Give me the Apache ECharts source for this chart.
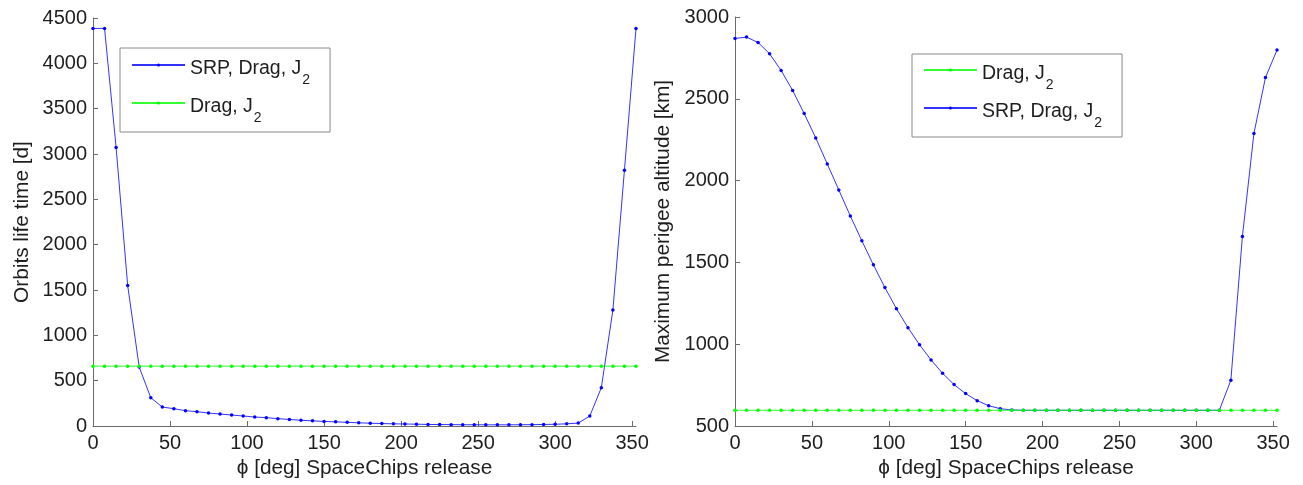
<!DOCTYPE html>
<html>
<head>
<meta charset="utf-8">
<script src="https://cdn.jsdelivr.net/npm/echarts@6.0.0/dist/echarts.min.js"></script>
<style>
  html, body { margin: 0; padding: 0; background: #ffffff; }
  #chart { width: 1303px; height: 485px; }
</style>
</head>
<body>
<div id="chart"></div>
<script>
// Release angle of the SpaceChips [deg]
const phi = [0, 7.5, 15, 22.5, 30, 37.5, 45, 52.5, 60, 67.5, 75, 82.5, 90, 97.5,
  105, 112.5, 120, 127.5, 135, 142.5, 150, 157.5, 165, 172.5, 180, 187.5, 195,
  202.5, 210, 217.5, 225, 232.5, 240, 247.5, 255, 262.5, 270, 277.5, 285, 292.5,
  300, 307.5, 315, 322.5, 330, 337.5, 345, 352.5];

// Orbit lifetime [d]
const lifeSrpDragJ2 = [4385, 4385, 3073, 1551, 650, 312, 209, 191, 169, 158, 143,
  132, 121, 110, 99, 92, 81, 72, 63, 57, 50, 46, 40, 35, 31, 27, 24, 22, 20, 17,
  16, 15, 14, 14, 13, 13, 13, 14, 15, 17, 19, 24, 32, 110, 423, 1279, 2822, 4385];
const lifeDragJ2 = [660, 660, 660, 660, 660, 660, 660, 660, 660, 660, 660, 660,
  660, 660, 660, 660, 660, 660, 660, 660, 660, 660, 660, 660, 660, 660, 660, 660,
  660, 660, 660, 660, 660, 660, 660, 660, 660, 660, 660, 660, 660, 660, 660, 660,
  660, 660, 660, 660];

// Maximum perigee altitude [km]
const perigeeSrpDragJ2 = [2869, 2877, 2844, 2775, 2673, 2551, 2410, 2261, 2102,
  1943, 1784, 1632, 1485, 1346, 1217, 1101, 997, 904, 822, 753, 698, 655, 624,
  606, 598, 596, 596, 596, 596, 596, 596, 596, 596, 596, 596, 596, 596, 596, 596,
  596, 596, 596, 596, 780, 1658, 2288, 2630, 2798];
const perigeeDragJ2 = [596, 596, 596, 596, 596, 596, 596, 596, 596, 596, 596, 596,
  596, 596, 596, 596, 596, 596, 596, 596, 596, 596, 596, 596, 596, 596, 596, 596,
  596, 596, 596, 596, 596, 596, 596, 596, 596, 596, 596, 596, 596, 596, 596, 596,
  596, 596, 596, 596];

// Tick labels
const xTicks = [0, 50, 100, 150, 200, 250, 300, 350];

const NAME_FULL = 'SRP, Drag, J2';
const NAME_DRAG = 'Drag, J2';
const X_TITLE = 'ϕ [deg] SpaceChips release';

const FONT = '"Liberation Sans", Arial, sans-serif';
const AXIS_COLOR = '#6b6b6b';
const TEXT_COLOR = '#1e1e1e';
const BLUE = '#0000ff';
const GREEN = '#00ff00';
const TICK_SIZE = 20;
const TITLE_SIZE = 20.8;

const pairs = (ys) => phi.map((x, i) => [x, ys[i]]);
const plain = (v) => String(v);

function xAxis(gridIndex) {
  return {
    type: 'value', gridIndex, min: 0, max: 352.5,
    name: X_TITLE, nameLocation: 'middle', nameGap: 29,
    nameTextStyle: { fontFamily: FONT, fontSize: TITLE_SIZE, color: TEXT_COLOR },
    axisLine: { lineStyle: { color: AXIS_COLOR, width: 1 } },
    axisTick: { inside: true, length: 5, customValues: xTicks, lineStyle: { color: AXIS_COLOR } },
    axisLabel: { customValues: xTicks, margin: 7, formatter: plain, fontFamily: FONT, fontSize: TICK_SIZE, color: TEXT_COLOR },
    splitLine: { show: false }
  };
}

function yAxis(gridIndex, min, max, name, gap) {
  return {
    type: 'value', gridIndex, min, max, interval: 500,
    name, nameLocation: 'middle', nameGap: gap,
    nameTextStyle: { fontFamily: FONT, fontSize: TITLE_SIZE, color: TEXT_COLOR },
    axisLine: { show: true, lineStyle: { color: AXIS_COLOR, width: 1 } },
    axisTick: { show: true, inside: true, length: 5, lineStyle: { color: AXIS_COLOR } },
    axisLabel: { margin: 6, formatter: plain, fontFamily: FONT, fontSize: TICK_SIZE, color: TEXT_COLOR },
    splitLine: { show: false }
  };
}

function lineSeries(name, axisIndex, ys, color, z) {
  return {
    type: 'line', name, xAxisIndex: axisIndex, yAxisIndex: axisIndex,
    data: pairs(ys), symbol: 'circle', symbolSize: 3.5, z,
    itemStyle: { color },
    lineStyle: { color, width: 1, opacity: 0.8 },
    emphasis: { disabled: true }
  };
}

// Legend label with a subscript "2" on J
const legendRich = {
  n: { fontFamily: FONT, fontSize: 19.5, color: TEXT_COLOR, lineHeight: 20, padding: [4, 0, 0, 0], verticalAlign: 'top' },
  s: { fontFamily: FONT, fontSize: 14, color: TEXT_COLOR, lineHeight: 14, padding: [18, 0, 0, 1], verticalAlign: 'top' }
};
const legendFormatter = (name) => '{n|' + name.slice(0, -1) + '}{s|' + name.slice(-1) + '}';

function legend(left, top, names, padding) {
  return {
    orient: 'vertical', left, top, data: names,
    itemWidth: 53, itemHeight: 4, itemGap: 6, padding,
    borderColor: '#8a8a8a', borderWidth: 1, backgroundColor: '#ffffff',
    selectedMode: false, formatter: legendFormatter,
    textStyle: { rich: legendRich }
  };
}

const chart = echarts.init(document.getElementById('chart'), null, { renderer: 'canvas' });
chart.setOption({
  animation: false,
  backgroundColor: '#ffffff',
  grid: [
    { left: 93, top: 18, width: 543, height: 408 },
    { left: 735, top: 17, width: 542, height: 409 }
  ],
  xAxis: [xAxis(0), xAxis(1)],
  yAxis: [
    yAxis(0, 0, 4500, 'Orbits life time [d]', 60),
    yAxis(1, 500, 3000, 'Maximum perigee altitude [km]', 61)
  ],
  legend: [
    legend(120, 48, [NAME_FULL, NAME_DRAG], [7, 20, 7, 11]),
    legend(912, 54, [NAME_DRAG, NAME_FULL], [6, 20, 7, 11])
  ],
  series: [
    lineSeries(NAME_FULL, 0, lifeSrpDragJ2, BLUE, 2),
    lineSeries(NAME_DRAG, 0, lifeDragJ2, GREEN, 3),
    lineSeries(NAME_DRAG, 1, perigeeDragJ2, GREEN, 3),
    lineSeries(NAME_FULL, 1, perigeeSrpDragJ2, BLUE, 2)
  ]
});
</script>
</body>
</html>
